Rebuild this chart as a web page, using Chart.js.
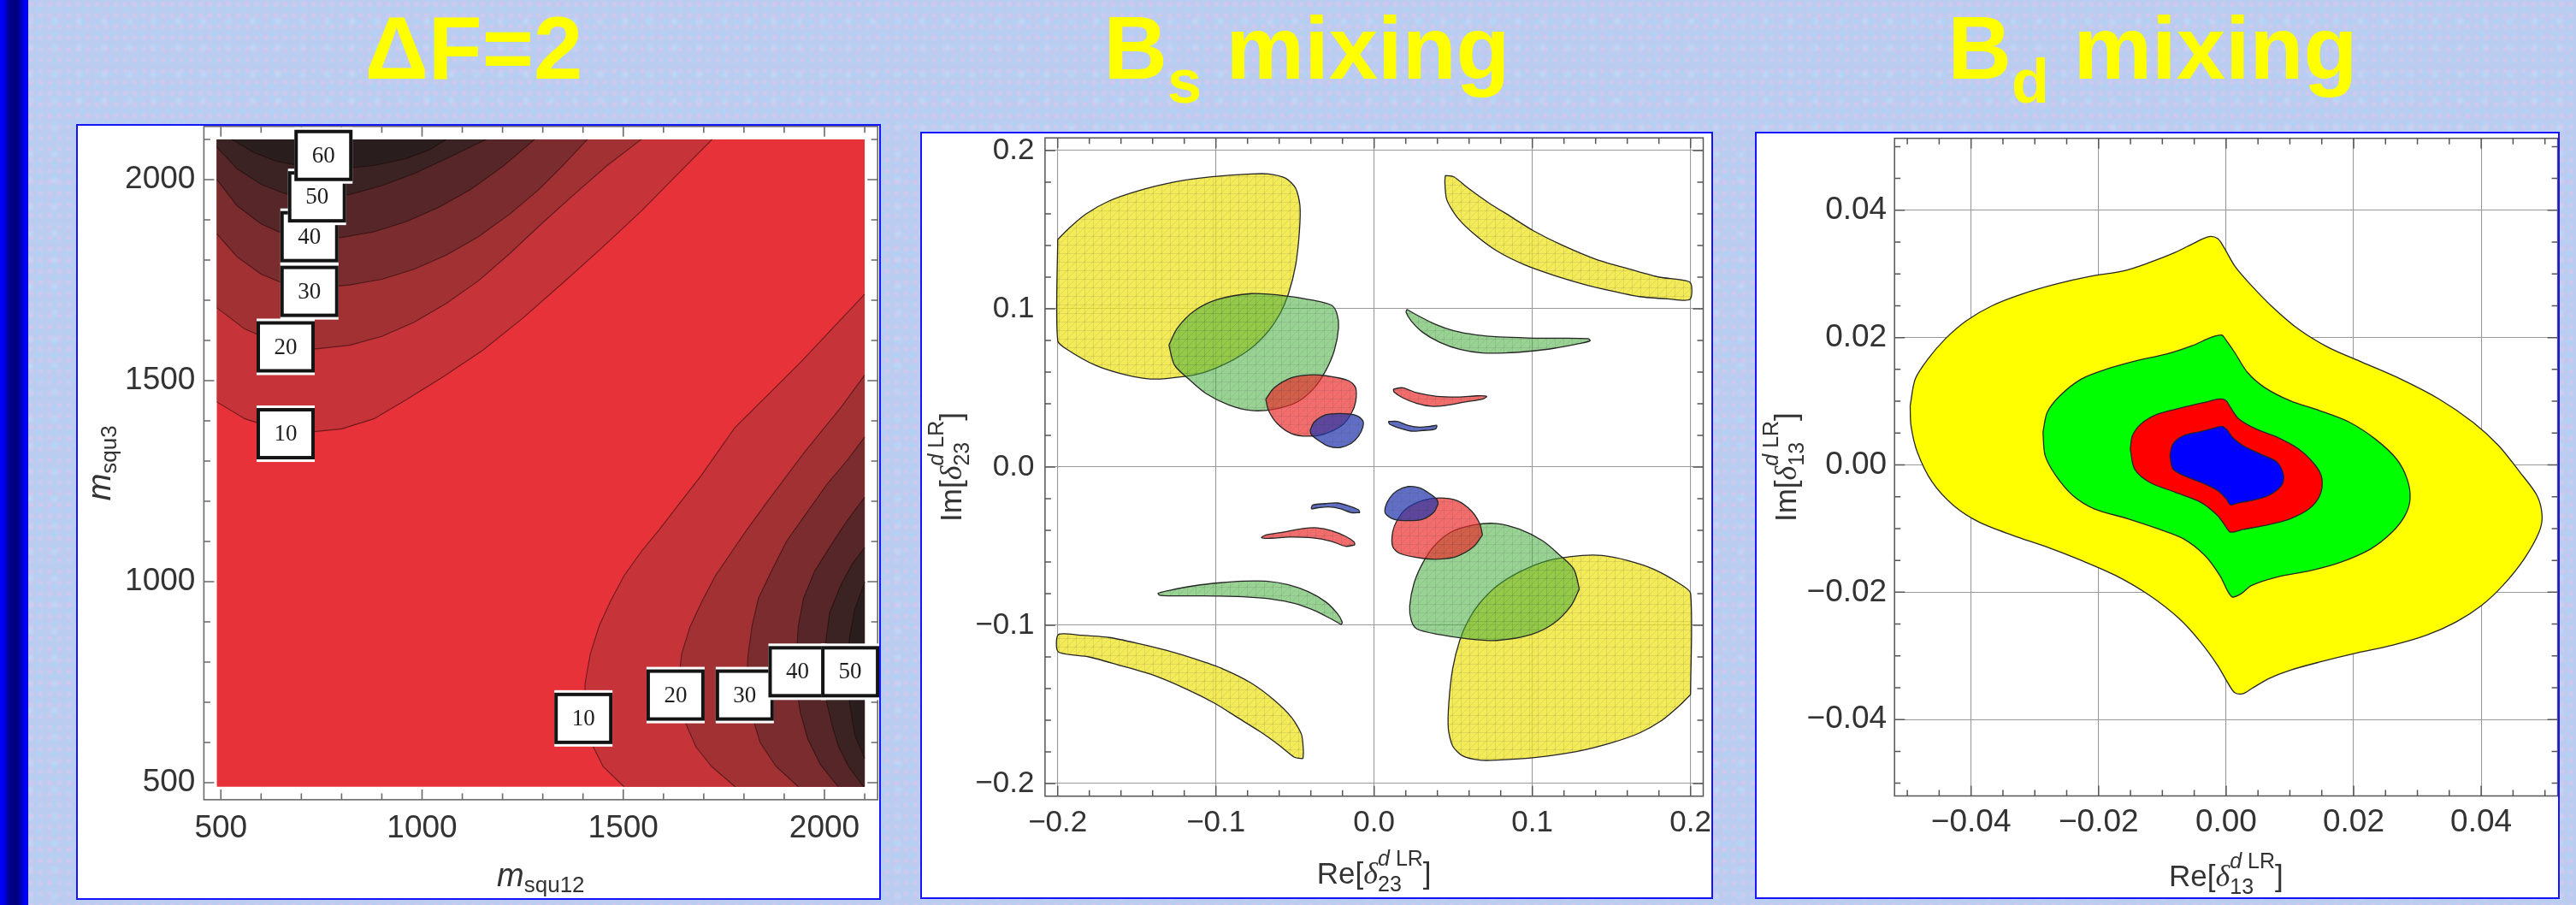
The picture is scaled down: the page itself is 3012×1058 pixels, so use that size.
<!DOCTYPE html>
<html><head><meta charset="utf-8">
<script src="https://cdn.jsdelivr.net/npm/chart.js@4.4.1/dist/chart.umd.min.js"></script>
<style>
html,body{margin:0;padding:0;}
body{width:3012px;height:1058px;position:relative;overflow:hidden;
 background-color:#bacdf0;
 background-image:
  radial-gradient(circle at 30% 40%, rgba(236,192,230,0.6) 0, rgba(236,192,230,0) 4px),
  radial-gradient(circle at 70% 70%, rgba(165,214,248,0.65) 0, rgba(165,214,248,0) 5px),
  radial-gradient(circle at 50% 20%, rgba(214,188,242,0.55) 0, rgba(214,188,242,0) 4px),
  radial-gradient(circle at 20% 80%, rgba(200,226,252,0.55) 0, rgba(200,226,252,0) 6px);
 background-size:11px 13px,17px 15px,23px 19px,29px 31px;}
.bar{position:absolute;left:0;top:0;width:33px;height:1058px;
 background:linear-gradient(to right,#0000ff 0px,#0000f0 4px,#00008c 11px,#00007a 20px,#0000c8 26px,#0000ff 29px,#0000ff 33px);}
.box{position:absolute;background:#fff;border:2px solid #1414ff;box-sizing:border-box;}
.box canvas{position:absolute;left:0;top:0;}
.ttl{position:absolute;top:4.5px;width:900px;text-align:center;
 font:bold 103px/103px "Liberation Sans",Arial,sans-serif;color:#ffff00;white-space:nowrap;}
.ttl span{font-size:72px;position:relative;top:28px;}
</style></head>
<body>
<div class="bar"></div>
<div class="ttl" style="left:104px">ΔF=2</div>
<div class="ttl" style="left:1078px">B<span>s</span> mixing</div>
<div class="ttl" style="left:2067px">B<span>d</span> mixing</div>
<div class="box" style="left:89px;top:145px;width:941px;height:907px"><canvas id="c1" width="937" height="903" style="width:937px;height:903px"></canvas></div>
<div class="box" style="left:1076px;top:154px;width:927px;height:897px"><canvas id="c2" width="923" height="893" style="width:923px;height:893px"></canvas></div>
<div class="box" style="left:2052px;top:154px;width:941px;height:897px"><canvas id="c3" width="937" height="893" style="width:937px;height:893px"></canvas></div>
<script>
// ================= DATA =================
// ---- Panel 1: ΔF=2 contour plot (m_squ12 vs m_squ3) ----
const p1Region = [[490,490],[2100,490],[2100,2100],[490,2100]];
const p1Levels = [10,20,30,40,50,60];
const p1CornerUL = [490,2100];
const p1CornerLR = [2100,490];
// upper-left contour lines
const ulC10 = [[490,1447],[560,1405],[640,1380],[720,1372],[800,1380],[880,1405],[960,1452],[1050,1508],[1150,1575],[1250,1655],[1360,1752],[1450,1833],[1545,1922],[1630,2008],[1721,2100]];
const ulC20 = [[490,1681],[560,1628],[640,1594],[737,1579],[820,1588],[900,1610],[980,1645],[1060,1692],[1140,1748],[1220,1818],[1300,1893],[1380,1965],[1460,2035],[1545,2100]];
const ulC30 = [[490,1865],[540,1808],[600,1765],[660,1740],[737,1731],[820,1738],[900,1752],[980,1777],[1060,1812],[1140,1858],[1219,1915],[1290,1975],[1350,2035],[1411,2100]];
const ulC40 = [[490,2000],[540,1935],[600,1890],[660,1863],[720,1853],[800,1856],[880,1870],[960,1895],[1040,1930],[1120,1975],[1200,2032],[1280,2100]];
const ulC50 = [[490,2081],[540,2027],[600,1988],[660,1965],[741,1957],[820,1963],[900,1985],[980,2015],[1060,2052],[1159,2100]];
const ulC60 = [[528,2100],[580,2068],[640,2045],[720,2030],[800,2027],[880,2035],[960,2052],[1020,2075],[1060,2100]];
// lower-right contour lines
const lrC10 = [[1502,490],[1450,540],[1420,600],[1405,680],[1405,746],[1418,820],[1440,890],[1470,955],[1502,1015],[1545,1075],[1590,1130],[1640,1195],[1693,1263],[1740,1330],[1778,1384],[1860,1465],[1943,1548],[2020,1630],[2100,1715]];
const lrC20 = [[1778,490],[1720,540],[1680,590],[1650,660],[1637,746],[1645,820],[1666,888],[1695,950],[1729,1015],[1770,1075],[1807,1129],[1855,1195],[1906,1263],[1945,1315],[1977,1355],[2040,1432],[2100,1514]];
const lrC30 = [[1935,490],[1880,540],[1840,600],[1818,675],[1807,750],[1810,817],[1820,890],[1836,959],[1870,1030],[1906,1101],[1955,1170],[2006,1242],[2055,1300],[2100,1360]];
const lrC40 = [[2034,490],[1990,545],[1958,610],[1940,675],[1928,750],[1930,817],[1935,890],[1948,959],[1975,1025],[2013,1086],[2055,1150],[2100,1210]];
const lrC50 = [[2097,490],[2060,540],[2035,590],[2020,640],[2003,710],[1998,782],[2003,850],[2013,923],[2040,990],[2069,1044],[2100,1085]];
const lrC60 = [[2100,560],[2075,620],[2062,700],[2058,780],[2062,860],[2075,930],[2100,1000]];
const p1ULCorner = [true,true,true,true,true,false];
const p1LRCorner = [true,true,true,true,true,false];
const p1BandColors = ['#e8323a','#c6343a','#a23134','#7b2c2e','#562628','#3b2324','#2a1d1d'];
// contour labels
const ulLabelVals = [10,20,30,40,50,60];
const ulLabelX = [661,661,720,720,739,755];
const ulLabelY = [1368,1584,1722,1858,1957,2060];
const lrLabelVals = [10,20,30,40,50];
const lrLabelX = [1401,1630,1802,1933,2064];
const lrLabelY = [660,718,718,776,776];
const p1XTicks = [500,1000,1500,2000];
const p1XTickLabels = ['500','1000','1500','2000'];
const p1YTicks = [500,1000,1500,2000];
const p1YTickLabels = ['500','1000','1500','2000'];

// ---- Panel 2: Bs mixing (Re vs Im of δ23 dLR) ----
const bsYellow1 = [[-0.2000,0.1438],[-0.1928,0.1510],[-0.1820,0.1600],[-0.1676,0.1681],[-0.1496,0.1744],[-0.1279,0.1798],[-0.1027,0.1834],[-0.0775,0.1852],[-0.0667,0.1852],[-0.0559,0.1825],[-0.0496,0.1762],[-0.0469,0.1654],[-0.0472,0.1492],[-0.0496,0.1276],[-0.0541,0.1096],[-0.0595,0.0969],[-0.0667,0.0861],[-0.0775,0.0753],[-0.0919,0.0663],[-0.1099,0.0591],[-0.1316,0.0559],[-0.1442,0.0559],[-0.1604,0.0591],[-0.1766,0.0645],[-0.1928,0.0735],[-0.2000,0.0798]];
const bsYellow2 = [[0.2000,-0.1438],[0.1928,-0.1510],[0.1820,-0.1600],[0.1676,-0.1681],[0.1496,-0.1744],[0.1279,-0.1798],[0.1027,-0.1834],[0.0775,-0.1852],[0.0667,-0.1852],[0.0559,-0.1825],[0.0496,-0.1762],[0.0469,-0.1654],[0.0472,-0.1492],[0.0496,-0.1276],[0.0541,-0.1096],[0.0595,-0.0969],[0.0667,-0.0861],[0.0775,-0.0753],[0.0919,-0.0663],[0.1099,-0.0591],[0.1316,-0.0559],[0.1442,-0.0559],[0.1604,-0.0591],[0.1766,-0.0645],[0.1928,-0.0735],[0.2000,-0.0798]];
const bsYellow3 = [[0.0450,0.1843],[0.0504,0.1834],[0.0595,0.1762],[0.0721,0.1672],[0.0865,0.1582],[0.1009,0.1492],[0.1189,0.1402],[0.1405,0.1312],[0.1622,0.1249],[0.1802,0.1200],[0.1996,0.1168],[0.1996,0.1059],[0.1856,0.1063],[0.1676,0.1077],[0.1495,0.1114],[0.1315,0.1158],[0.1135,0.1212],[0.0955,0.1276],[0.0775,0.1366],[0.0630,0.1474],[0.0522,0.1582],[0.0459,0.1690],[0.0447,0.1798]];
const bsYellow4 = [[-0.0450,-0.1843],[-0.0504,-0.1834],[-0.0595,-0.1762],[-0.0721,-0.1672],[-0.0865,-0.1582],[-0.1009,-0.1492],[-0.1189,-0.1402],[-0.1405,-0.1312],[-0.1622,-0.1249],[-0.1802,-0.1200],[-0.1996,-0.1168],[-0.1996,-0.1059],[-0.1856,-0.1063],[-0.1676,-0.1077],[-0.1495,-0.1114],[-0.1315,-0.1158],[-0.1135,-0.1212],[-0.0955,-0.1276],[-0.0775,-0.1366],[-0.0630,-0.1474],[-0.0522,-0.1582],[-0.0459,-0.1690],[-0.0447,-0.1798]];
const bsGreen1 = [[-0.1297,0.0771],[-0.1243,0.0879],[-0.1135,0.0988],[-0.0991,0.1059],[-0.0775,0.1096],[-0.0595,0.1086],[-0.0415,0.1059],[-0.0270,0.1023],[-0.0235,0.0969],[-0.0225,0.0879],[-0.0252,0.0735],[-0.0306,0.0609],[-0.0378,0.0501],[-0.0486,0.0411],[-0.0631,0.0366],[-0.0775,0.0357],[-0.0919,0.0393],[-0.1063,0.0465],[-0.1171,0.0555],[-0.1262,0.0645]];
const bsGreen2 = [[0.1297,-0.0771],[0.1243,-0.0879],[0.1135,-0.0988],[0.0991,-0.1059],[0.0775,-0.1096],[0.0595,-0.1086],[0.0415,-0.1059],[0.0270,-0.1023],[0.0235,-0.0969],[0.0225,-0.0879],[0.0252,-0.0735],[0.0306,-0.0609],[0.0378,-0.0501],[0.0486,-0.0411],[0.0631,-0.0366],[0.0775,-0.0357],[0.0919,-0.0393],[0.1063,-0.0465],[0.1171,-0.0555],[0.1262,-0.0645]];
const bsGreen3 = [[0.0207,0.0996],[0.0270,0.0961],[0.0378,0.0906],[0.0504,0.0861],[0.0649,0.0834],[0.0792,0.0822],[0.0973,0.0816],[0.1153,0.0814],[0.1351,0.0811],[0.1365,0.0798],[0.1297,0.0780],[0.1135,0.0750],[0.0973,0.0731],[0.0829,0.0721],[0.0684,0.0721],[0.0541,0.0744],[0.0414,0.0789],[0.0306,0.0852],[0.0234,0.0924],[0.0202,0.0978]];
const bsGreen4 = [[-0.0207,-0.0996],[-0.0270,-0.0961],[-0.0378,-0.0906],[-0.0504,-0.0861],[-0.0649,-0.0834],[-0.0792,-0.0822],[-0.0973,-0.0816],[-0.1153,-0.0814],[-0.1351,-0.0811],[-0.1365,-0.0798],[-0.1297,-0.0780],[-0.1135,-0.0750],[-0.0973,-0.0731],[-0.0829,-0.0721],[-0.0684,-0.0721],[-0.0541,-0.0744],[-0.0414,-0.0789],[-0.0306,-0.0852],[-0.0234,-0.0924],[-0.0202,-0.0978]];
const bsRed1 = [[-0.0685,0.0429],[-0.0631,0.0501],[-0.0523,0.0564],[-0.0415,0.0582],[-0.0306,0.0577],[-0.0162,0.0546],[-0.0117,0.0501],[-0.0117,0.0411],[-0.0144,0.0339],[-0.0198,0.0267],[-0.0306,0.0212],[-0.0415,0.0195],[-0.0523,0.0212],[-0.0613,0.0276],[-0.0667,0.0357]];
const bsRed2 = [[0.0685,-0.0429],[0.0631,-0.0501],[0.0523,-0.0564],[0.0415,-0.0582],[0.0306,-0.0577],[0.0162,-0.0546],[0.0117,-0.0501],[0.0117,-0.0411],[0.0144,-0.0339],[0.0198,-0.0267],[0.0306,-0.0212],[0.0415,-0.0195],[0.0523,-0.0212],[0.0613,-0.0276],[0.0667,-0.0357]];
const bsRed3 = [[0.0122,0.0492],[0.0180,0.0501],[0.0270,0.0469],[0.0396,0.0447],[0.0541,0.0443],[0.0649,0.0450],[0.0711,0.0447],[0.0684,0.0429],[0.0576,0.0411],[0.0450,0.0389],[0.0360,0.0384],[0.0270,0.0402],[0.0180,0.0438],[0.0126,0.0474]];
const bsRed4 = [[-0.0122,-0.0492],[-0.0180,-0.0501],[-0.0270,-0.0469],[-0.0396,-0.0447],[-0.0541,-0.0443],[-0.0649,-0.0450],[-0.0711,-0.0447],[-0.0684,-0.0429],[-0.0576,-0.0411],[-0.0450,-0.0389],[-0.0360,-0.0384],[-0.0270,-0.0402],[-0.0180,-0.0438],[-0.0126,-0.0474]];
const bsBlue1 = [[-0.0405,0.0231],[-0.0378,0.0285],[-0.0306,0.0330],[-0.0216,0.0339],[-0.0126,0.0330],[-0.0072,0.0294],[-0.0072,0.0249],[-0.0099,0.0195],[-0.0144,0.0150],[-0.0216,0.0123],[-0.0289,0.0132],[-0.0351,0.0168],[-0.0396,0.0204]];
const bsBlue2 = [[0.0405,-0.0231],[0.0378,-0.0285],[0.0306,-0.0330],[0.0216,-0.0339],[0.0126,-0.0330],[0.0072,-0.0294],[0.0072,-0.0249],[0.0099,-0.0195],[0.0144,-0.0150],[0.0216,-0.0123],[0.0289,-0.0132],[0.0351,-0.0168],[0.0396,-0.0204]];
const bsBlue3 = [[0.0090,0.0288],[0.0144,0.0288],[0.0216,0.0263],[0.0288,0.0252],[0.0360,0.0258],[0.0396,0.0263],[0.0387,0.0240],[0.0306,0.0231],[0.0234,0.0227],[0.0162,0.0245],[0.0099,0.0270]];
const bsBlue4 = [[-0.0090,-0.0288],[-0.0144,-0.0288],[-0.0216,-0.0263],[-0.0288,-0.0252],[-0.0360,-0.0258],[-0.0396,-0.0263],[-0.0387,-0.0240],[-0.0306,-0.0231],[-0.0234,-0.0227],[-0.0162,-0.0245],[-0.0099,-0.0270]];
const bsColors = {yellow:'rgba(240,228,30,0.74)', green:'rgba(70,175,60,0.55)', red:'rgba(238,40,40,0.68)', blue:'rgba(35,55,175,0.72)'};
const p2Ticks = [-0.2,-0.1,0,0.1,0.2];
const p2TickLabels = ['\u22120.2','\u22120.1','0.0','0.1','0.2'];

// ---- Panel 3: Bd mixing (Re vs Im of δ13 dLR) ----
const bdYellow = [[-0.04955,0.00931],[-0.04875,0.01349],[-0.04675,0.01663],[-0.04407,0.01977],[-0.04074,0.02264],[-0.03673,0.02499],[-0.03205,0.02682],[-0.02671,0.02839],[-0.02137,0.02960],[-0.01603,0.03049],[-0.01202,0.03179],[-0.00801,0.03336],[-0.00467,0.03503],[-0.00267,0.03587],[-0.00134,0.03556],[-0.00033,0.03415],[0.00134,0.03127],[0.00401,0.02813],[0.00735,0.02473],[0.01135,0.02133],[0.01603,0.01846],[0.02137,0.01611],[0.02738,0.01349],[0.03339,0.01035],[0.03873,0.00669],[0.04274,0.00303],[0.04608,-0.00115],[0.04875,-0.00481],[0.04955,-0.00795],[0.04908,-0.01056],[0.04675,-0.01475],[0.04341,-0.01893],[0.04007,-0.02207],[0.03606,-0.02468],[0.03139,-0.02677],[0.02604,-0.02834],[0.02003,-0.02965],[0.01469,-0.03096],[0.01002,-0.03226],[0.00668,-0.03357],[0.00401,-0.03514],[0.00267,-0.03592],[0.00134,-0.03577],[0.00033,-0.03435],[-0.00134,-0.03148],[-0.00401,-0.02782],[-0.00735,-0.02416],[-0.01202,-0.02050],[-0.01736,-0.01736],[-0.02271,-0.01501],[-0.02805,-0.01292],[-0.03339,-0.01109],[-0.03873,-0.00899],[-0.04274,-0.00638],[-0.04608,-0.00272],[-0.04842,0.00199],[-0.04942,0.00617]];
const bdGreen = [[-0.02872,0.00512],[-0.02805,0.00826],[-0.02604,0.01088],[-0.02271,0.01349],[-0.01870,0.01506],[-0.01402,0.01637],[-0.00935,0.01741],[-0.00534,0.01872],[-0.00234,0.02003],[-0.00067,0.02039],[-0.00013,0.01977],[0.00134,0.01767],[0.00334,0.01454],[0.00601,0.01218],[0.01002,0.01009],[0.01469,0.00852],[0.01937,0.00669],[0.02337,0.00408],[0.02671,0.00094],[0.02838,-0.00220],[0.02885,-0.00533],[0.02805,-0.00795],[0.02604,-0.01056],[0.02271,-0.01318],[0.01803,-0.01527],[0.01336,-0.01658],[0.00801,-0.01762],[0.00401,-0.01893],[0.00234,-0.02024],[0.00100,-0.02076],[0.00033,-0.01997],[-0.00100,-0.01736],[-0.00334,-0.01422],[-0.00668,-0.01161],[-0.01068,-0.01004],[-0.01536,-0.00847],[-0.02070,-0.00690],[-0.02404,-0.00481],[-0.02671,-0.00167],[-0.02838,0.00146]];
const bdRed = [[-0.01503,0.00251],[-0.01469,0.00460],[-0.01336,0.00643],[-0.01068,0.00800],[-0.00668,0.00905],[-0.00334,0.00983],[-0.00100,0.01035],[0.00000,0.01009],[0.00067,0.00905],[0.00200,0.00722],[0.00467,0.00565],[0.00801,0.00434],[0.01135,0.00251],[0.01402,-0.00010],[0.01503,-0.00220],[0.01469,-0.00481],[0.01302,-0.00690],[0.01002,-0.00847],[0.00601,-0.00952],[0.00267,-0.01014],[0.00067,-0.01056],[0.00000,-0.00978],[-0.00134,-0.00795],[-0.00401,-0.00586],[-0.00801,-0.00429],[-0.01202,-0.00272],[-0.01436,-0.00063]];
const bdBlue = [[-0.00881,0.00146],[-0.00835,0.00329],[-0.00668,0.00460],[-0.00401,0.00523],[-0.00200,0.00575],[-0.00067,0.00607],[0.00013,0.00554],[0.00100,0.00434],[0.00267,0.00303],[0.00534,0.00173],[0.00801,0.00042],[0.00902,-0.00167],[0.00868,-0.00324],[0.00668,-0.00481],[0.00401,-0.00560],[0.00200,-0.00596],[0.00067,-0.00627],[0.00000,-0.00533],[-0.00134,-0.00403],[-0.00401,-0.00272],[-0.00668,-0.00167],[-0.00835,-0.00063]];
const bdColors = ['#ffff00','#00ff00','#ff0000','#0000ff'];
const p3Ticks = [-0.04,-0.02,0,0.02,0.04];
const p3TickLabels = ['\u22120.04','\u22120.02','0.00','0.02','0.04'];

// ================= HELPERS =================
const FAM = '"Liberation Sans", Arial, Helvetica, sans-serif';
const SERIF = '"Liberation Serif", "Times New Roman", serif';
function pts(a){ return a.map(p => ({x:p[0], y:p[1]})); }
function closed(a){ return pts(a.concat([a[0]])); }
function fillDs(a, color){
  return {data: closed(a), fill:'shape', backgroundColor:color, borderColor:'rgba(0,0,0,0)', borderWidth:0, pointRadius:0, tension:0};
}
function lineDs(a, color, w){
  return {data: pts(a), fill:false, borderColor:color, borderWidth:w, pointRadius:0, tension:0};
}
function shapeDs(a, color, tension){
  return {data: closed(a), fill:'shape', backgroundColor:color, borderColor:'#262626', borderWidth:1.3, pointRadius:0, tension:tension};
}
// faint triangular mesh texture as in the Mathematica region plot
function meshFill(rgba){
  const c=document.createElement('canvas'); c.width=10; c.height=10;
  const g=c.getContext('2d'); g.fillStyle=rgba; g.fillRect(0,0,10,10);
  g.strokeStyle='rgba(70,70,70,0.12)'; g.lineWidth=1; g.beginPath();
  g.moveTo(0,0.5); g.lineTo(10,0.5); g.moveTo(0.5,0); g.lineTo(0.5,10); g.moveTo(0,10); g.lineTo(10,0);
  g.stroke();
  return g.createPattern(c,'repeat');
}
function ordered(list){ return list.map((d,i)=>Object.assign(d,{order:-i})); }
function range(a,b,step){ const r=[]; const n=Math.round((b-a)/step); for(let k=0;k<=n;k++) r.push(a+k*step); return r; }

function measureParts(ctx, parts){
  let w=0;
  for(const p of parts){
    if(p.stack){ let m=0; for(const row of p.stack){ let rw=0; for(const r of row){ ctx.font=r.f; rw+=ctx.measureText(r.t).width; } m=Math.max(m,rw); } w+=m; }
    else { ctx.font=p.f; w+=ctx.measureText(p.t).width; }
  }
  return w;
}
function drawParts(ctx, parts, x0){
  let x=x0;
  for(const p of parts){
    if(p.stack){ let m=0; for(const row of p.stack){ let rx=x; for(const r of row){ ctx.font=r.f; ctx.fillText(r.t, rx, r.dy||0); rx+=ctx.measureText(r.t).width; } m=Math.max(m, rx-x); } x+=m; }
    else { ctx.font=p.f; ctx.fillText(p.t, x, p.dy||0); x+=ctx.measureText(p.t).width; }
  }
}
function drawRich(ctx, parts, px, py, rotated){
  ctx.save(); ctx.translate(px,py); if(rotated) ctx.rotate(-Math.PI/2);
  ctx.textBaseline='alphabetic'; ctx.textAlign='left'; ctx.fillStyle='#333';
  const w=measureParts(ctx,parts); drawParts(ctx,parts,-w/2); ctx.restore();
}
function titlePlugin(xParts, yParts, xOff, yOff){
  return {id:'axisTitles', afterDraw(chart){
    const a=chart.chartArea, ctx=chart.ctx;
    drawRich(ctx, xParts, (a.left+a.right)/2, a.bottom+xOff, false);
    drawRich(ctx, yParts, a.left-yOff, (a.top+a.bottom)/2, true);
  }};
}
function framePlugin(cfg){
  return {id:'frame', afterDatasetsDraw(chart){
    const {ctx, chartArea:a} = chart; const sx=chart.scales.x, sy=chart.scales.y;
    ctx.save(); ctx.strokeStyle=cfg.color; ctx.lineWidth=cfg.lw;
    ctx.strokeRect(a.left,a.top,a.right-a.left,a.bottom-a.top);
    ctx.beginPath();
    const tx=(vals,len)=>{ for(const v of vals){ const p=sx.getPixelForValue(v); ctx.moveTo(p,a.bottom); ctx.lineTo(p,a.bottom-len); ctx.moveTo(p,a.top); ctx.lineTo(p,a.top+len);} };
    const ty=(vals,len)=>{ for(const v of vals){ const p=sy.getPixelForValue(v); ctx.moveTo(a.left,p); ctx.lineTo(a.left+len,p); ctx.moveTo(a.right,p); ctx.lineTo(a.right-len,p);} };
    tx(cfg.minorX,cfg.minorLen); tx(cfg.majorX,cfg.majorLen); ty(cfg.minorY,cfg.minorLen); ty(cfg.majorY,cfg.majorLen);
    ctx.stroke(); ctx.restore();
  }};
}
function scalesCfg(o){
  const tickFont={family:FAM,size:o.fontSize};
  return {
    x:{type:'linear',min:o.xmin,max:o.xmax,
       afterBuildTicks:s=>{s.ticks=o.xTicks.map(v=>({value:v}));},
       afterFit:s=>{s.height=o.hx; s.paddingLeft=0; s.paddingRight=0;},
       ticks:{callback:(v,i)=>o.xLabels[i],font:tickFont,color:'#333',padding:o.xPad,maxRotation:0,minRotation:0,autoSkip:false,includeBounds:false},
       grid:{display:o.grid,drawTicks:false,color:'#9a9a9a',lineWidth:1.1},border:{display:false}},
    y:{type:'linear',min:o.ymin,max:o.ymax,
       afterBuildTicks:s=>{s.ticks=o.yTicks.map(v=>({value:v}));},
       afterFit:s=>{s.width=o.wy; s.paddingTop=0; s.paddingBottom=0;},
       ticks:{callback:(v,i)=>o.yLabels[i],font:tickFont,color:'#333',padding:o.yPad,autoSkip:false,includeBounds:false},
       grid:{display:o.grid,drawTicks:false,color:'#9a9a9a',lineWidth:1.1},border:{display:false}}
  };
}
function baseOptions(o){
  return {responsive:false, animation:false, devicePixelRatio:1, events:[],
    layout:{padding:{left:0,top:o.padT,right:o.padR,bottom:0}},
    plugins:{legend:{display:false},tooltip:{enabled:false}},
    scales:scalesCfg(o)};
}

// ================= PANEL 1 =================
const ulC=[ulC10,ulC20,ulC30,ulC40,ulC50,ulC60];
const lrC=[lrC10,lrC20,lrC30,lrC40,lrC50,lrC60];
const ds1=[fillDs(p1Region,p1BandColors[0])];
p1Levels.forEach((lev,i)=>{
  ds1.push(fillDs(p1ULCorner[i]?ulC[i].concat([p1CornerUL]):ulC[i], p1BandColors[i+1]));
  ds1.push(fillDs(p1LRCorner[i]?lrC[i].concat([p1CornerLR]):lrC[i], p1BandColors[i+1]));
});
p1Levels.forEach((lev,i)=>{
  ds1.push(lineDs(ulC[i],'rgba(30,5,5,0.55)',1.1));
  ds1.push(lineDs(lrC[i],'rgba(30,5,5,0.55)',1.1));
});
const labelPlugin={id:'contourLabels', afterDatasetsDraw(chart){
  const ctx=chart.ctx, sx=chart.scales.x, sy=chart.scales.y;
  const one=(v,x,y)=>{
    const cx=sx.getPixelForValue(x), cy=sy.getPixelForValue(y);
    ctx.fillStyle='#fff'; ctx.fillRect(cx-34,cy-33,68,66);
    ctx.strokeStyle='#141414'; ctx.lineWidth=4; ctx.strokeRect(cx-32,cy-28,64,56);
    ctx.fillStyle='#1e1e1e'; ctx.font='27px '+SERIF; ctx.textAlign='center'; ctx.textBaseline='middle';
    ctx.fillText(String(v),cx,cy+1);
  };
  ctx.save();
  ulLabelVals.forEach((v,i)=>one(v,ulLabelX[i],ulLabelY[i]));
  lrLabelVals.forEach((v,i)=>one(v,lrLabelX[i],lrLabelY[i]));
  ctx.restore();
}};
new Chart(document.getElementById('c1'),{
  type:'line', data:{datasets:ordered(ds1)},
  options:baseOptions({xmin:457.8,xmax:2132.2,ymin:457.8,ymax:2132.2,xTicks:p1XTicks,xLabels:p1XTickLabels,yTicks:p1YTicks,yLabels:p1YTickLabels,
    hx:115.1,wy:147.4,padT:0.8,padR:1.8,xPad:11.7,yPad:10,fontSize:37,grid:false}),
  plugins:[framePlugin({color:'#6a6a6a',lw:1.6,majorX:p1XTicks,minorX:range(500,2100,100),majorY:p1YTicks,minorY:range(500,2100,100),majorLen:12,minorLen:7.5}),
    labelPlugin,
    titlePlugin([{t:'m',f:'italic 38px '+FAM},{t:'squ12',f:'26px '+FAM,dy:7}],
                [{t:'m',f:'italic 38px '+FAM},{t:'squ3',f:'26px '+FAM,dy:7}],101,109)]
});

// ================= PANEL 2 =================
const mY=meshFill(bsColors.yellow), mG=meshFill(bsColors.green), mR=meshFill(bsColors.red), mB=meshFill(bsColors.blue);
const ds2=[
  shapeDs(bsYellow1,mY,0.25),shapeDs(bsYellow2,mY,0.25),shapeDs(bsYellow3,mY,0.25),shapeDs(bsYellow4,mY,0.25),
  shapeDs(bsGreen1,mG,0.3),shapeDs(bsGreen2,mG,0.3),shapeDs(bsGreen3,mG,0.3),shapeDs(bsGreen4,mG,0.3),
  shapeDs(bsRed1,mR,0.3),shapeDs(bsRed2,mR,0.3),shapeDs(bsRed3,mR,0.3),shapeDs(bsRed4,mR,0.3),
  shapeDs(bsBlue1,mB,0.3),shapeDs(bsBlue2,mB,0.3),shapeDs(bsBlue3,mB,0.3),shapeDs(bsBlue4,mB,0.3)
];
const M2='35px '+FAM, D2='italic 36px '+SERIF, S2='25px '+FAM, SI2='italic 25px '+FAM;
new Chart(document.getElementById('c2'),{
  type:'line', data:{datasets:ordered(ds2)},
  options:baseOptions({xmin:-0.208,xmax:0.208,ymin:-0.208,ymax:0.208,xTicks:p2Ticks,xLabels:p2TickLabels,yTicks:p2Ticks,yLabels:p2TickLabels,
    hx:118.2,wy:143.9,padT:5.2,padR:9.5,xPad:10.5,yPad:12.5,fontSize:35,grid:true}),
  plugins:[framePlugin({color:'#555',lw:1.5,majorX:p2Ticks,minorX:range(-0.2,0.2,0.02),majorY:p2Ticks,minorY:range(-0.2,0.2,0.02),majorLen:12,minorLen:7}),
    titlePlugin([{t:'Re[',f:M2},{t:'δ',f:D2},{stack:[[{t:'d',f:SI2,dy:-21},{t:' LR',f:S2,dy:-21}],[{t:'23',f:S2,dy:9}]]},{t:']',f:M2}],
                [{t:'Im[',f:M2},{t:'δ',f:D2},{stack:[[{t:'d',f:SI2,dy:-21},{t:' LR',f:S2,dy:-21}],[{t:'23',f:S2,dy:9}]]},{t:']',f:M2}],102,98)]
});

// ================= PANEL 3 =================
const ds3=[shapeDs(bdYellow,bdColors[0],0.3),shapeDs(bdGreen,bdColors[1],0.3),shapeDs(bdRed,bdColors[2],0.3),shapeDs(bdBlue,bdColors[3],0.3)];
new Chart(document.getElementById('c3'),{
  type:'line', data:{datasets:ordered(ds3)},
  options:baseOptions({xmin:-0.052,xmax:0.052,ymin:-0.052,ymax:0.0513,xTicks:p3Ticks,xLabels:p3TickLabels,yTicks:p3Ticks,yLabels:p3TickLabels,
    hx:118.5,wy:161.2,padT:5.7,padR:0.4,xPad:9,yPad:9,fontSize:37,grid:true}),
  plugins:[framePlugin({color:'#555',lw:1.5,majorX:p3Ticks,minorX:range(-0.05,0.05,0.005),majorY:p3Ticks,minorY:range(-0.05,0.05,0.005),majorLen:12,minorLen:7}),
    titlePlugin([{t:'Re[',f:M2},{t:'δ',f:D2},{stack:[[{t:'d',f:SI2,dy:-21},{t:' LR',f:S2,dy:-21}],[{t:'13',f:S2,dy:9}]]},{t:']',f:M2}],
                [{t:'Im[',f:M2},{t:'δ',f:D2},{stack:[[{t:'d',f:SI2,dy:-21},{t:' LR',f:S2,dy:-21}],[{t:'13',f:S2,dy:9}]]},{t:']',f:M2}],105,115)]
});
</script>
</body></html>
